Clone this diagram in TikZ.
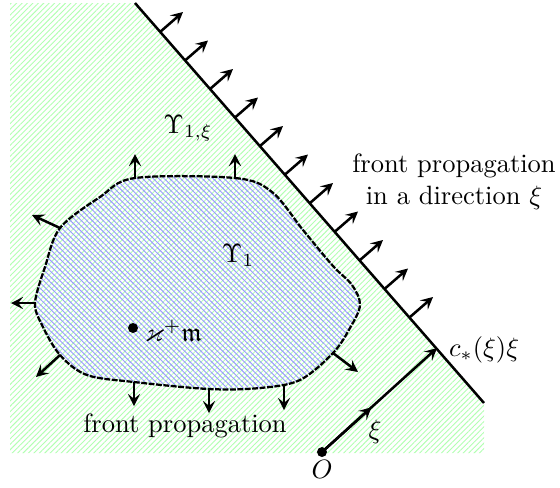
\documentclass[tikz,border=0pt]{standalone}
\usepackage{amssymb}
\usetikzlibrary{patterns.meta,calc,arrows.meta}
\begin{document}
\begin{tikzpicture}[x=0.3774pt,y=-0.3774pt,
  arr/.style={-{Stealth[length=4.6pt,width=4.6pt,inset=1.9pt]},line width=0.95pt},
  bound/.style={line width=0.85pt,dash pattern=on 2.2pt off 0.6pt},
  lbl/.style={inner sep=1pt}]
\useasboundingbox (0,0) rectangle (560,487);
% green half-plane region
\fill[pattern={Lines[angle=45,distance=1.45pt,line width=0.35pt]},pattern color=green!30]
  (10,3) -- (135,3) -- (484,403) -- (484,453) -- (10,453) -- cycle;
% blob
\def\blob{plot[smooth cycle,tension=0.55] coordinates {(135,178) (235,178) (272,192) (303,230) (333,266) (352,285) (360,305) (350,328) (333,353) (300,380) (260,388) (209,389) (134,382) (87,375) (60,355) (42,325) (35,303) (45,267) (60,228) (100,197)}}
\path[pattern={Lines[angle=-45,distance=1.45pt,line width=0.35pt]},pattern color=blue!40] \blob;
\draw[bound] \blob;
% blob normals
\foreach \x/\y/\dx/\dy in {135/178/0/-24, 235/178/0/-24, 60/228/-28/-13, 35/303/-24/0, 60/355/-24/22, 134/382/0/24, 209/389/0/24, 284/386/0/24, 333/353/25/19}
  \draw[arr] (\x,\y) -- ++(\dx,\dy);
% front line
\coordinate (L1) at (135,3);
\coordinate (L2) at (484,403);
\draw[line width=0.95pt] (L1) -- (L2);
\foreach \i in {0,...,10}
  \draw[arr] ($(160,32)+(\i*25,\i*28.5)$) -- ++(23,-20);
% xi arrow
\coordinate (C) at (437,348);
\coordinate (O) at (322,452);
\fill (O) circle (5);
\node[lbl,below] (Olab) at (322,457) {$O$};
\draw[arr] (O) -- ($(O)!0.43!(C)$);
\draw[arr] (O) -- (C);
\node[lbl] (xil) at (375,432) {$\xi$};
\node[lbl,anchor=west] (cl) at (446,350) {$c_*(\xi)\xi$};
% labels
\node[lbl] (U1x) at (188,128) {$\Upsilon_{1,\xi}$};
\node[lbl] (U1) at (238,255) {$\Upsilon_1$};
\fill (133,328) circle (5);
\node[lbl,anchor=west] (km) at (142,331) {$\varkappa^{+}\mathfrak{m}$};
\node[lbl,align=center] (fp1) at (454,182) {front propagation\\in a direction $\xi$};
\node[lbl] (fp2) at (185,426) {front propagation};
\end{tikzpicture}
\end{document}
